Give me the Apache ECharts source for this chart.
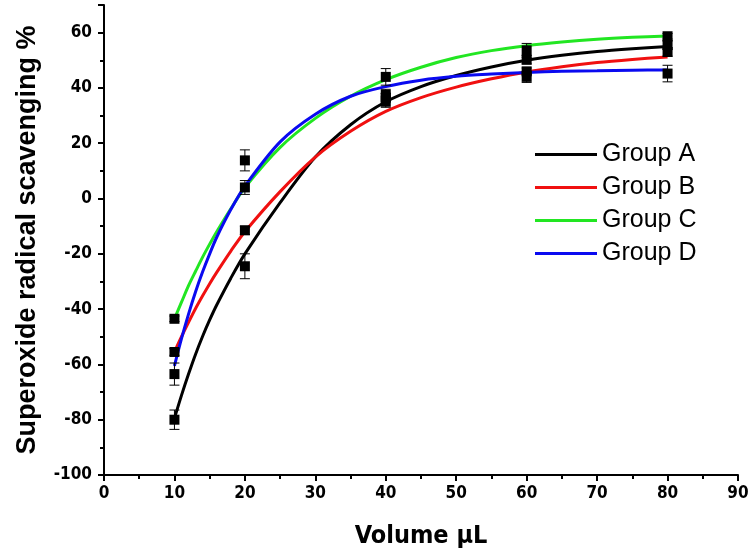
<!DOCTYPE html>
<html>
<head>
<meta charset="utf-8">
<script src="https://cdn.jsdelivr.net/npm/echarts@6/dist/echarts.min.js"></script>
<style>html,body{margin:0;padding:0;background:#fff}#c{width:750px;height:555px}</style>
</head>
<body>
<div id="c"></div>
<script>
// Fitted curves
const curveX = [10,11,12,13,14,15,16,18,20,25,30,35,40,45,50,55,60,65,70,75,80];
const curveA = [-79.5,-71.2,-63.5,-56.3,-49.8,-43.9,-38.5,-28.8,-20,-1.5,15,26.7,35,40.5,44.5,47.6,50,51.8,53.2,54.2,55];
const curveB = [-55.5,-50,-44.8,-39.8,-35.2,-30.8,-26.7,-19,-12,2.5,15,24.3,31.5,36.5,40.3,43.3,45.8,47.7,49.2,50.3,51.2];
const curveC = [-43.5,-37.5,-31.5,-26.3,-21.2,-16.5,-12,-3.7,4,18.5,29,37,43,47.5,51,53.5,55.3,56.6,57.6,58.3,58.8];
const curveD = [-60.5,-50.7,-41.8,-33.7,-26.5,-20,-14,-4,4.5,20.5,30.5,37,40.5,42.8,44.2,45,45.6,46,46.2,46.4,46.5];

// Measured points with error bars
const pointX = [10,20,40,60,80];
const pointsA = [-80,-24.5,35,50.2,55.5];
const errA    = [3.5,4.5,2,1.5,1.5];
const pointsB = [-55.5,-11.5,36.5,46,53];
const errB    = [1.2,1.5,1.5,1.2,1.5];
const pointsC = [-43.5,4,44,53.6,58.7];
const errC    = [1,2.5,3,2.5,1];
const pointsD = [-63.5,13.8,37.5,44,45.2];
const errD    = [4,3.8,2,2,3];

const groupNames = ['Group A','Group B','Group C','Group D'];
const groupColors = ['#000000','#f01010','#22e622','#0a0af0'];

const curves = [curveA, curveB, curveC, curveD];
const pts = [pointsA, pointsB, pointsC, pointsD];
const errs = [errA, errB, errC, errD];

const scatterData = [];
const errData = [];
pts.forEach((arr, g) => {
  arr.forEach((v, i) => {
    scatterData.push([pointX[i], v]);
    errData.push([pointX[i], v - errs[g][i], v + errs[g][i]]);
  });
});

const tickFont = "'Liberation Sans Narrow','Arial Narrow','DejaVu Sans Condensed',sans-serif";

const series = curves.map((c, g) => ({
  name: groupNames[g],
  type: 'line',
  data: curveX.map((x, i) => [x, c[i]]),
  smooth: 0.3,
  symbol: 'none',
  lineStyle: { color: groupColors[g], width: 3 },
  itemStyle: { color: groupColors[g] },
  z: 2
}));

series.push({
  name: 'errors',
  type: 'custom',
  data: errData,
  z: 3,
  renderItem: function (params, api) {
    const x = api.value(0);
    const lo = api.coord([x, api.value(1)]);
    const hi = api.coord([x, api.value(2)]);
    const w = 5;
    const st = { stroke: '#000', lineWidth: 1 };
    return {
      type: 'group',
      children: [
        { type: 'line', shape: { x1: lo[0], y1: lo[1], x2: hi[0], y2: hi[1] }, style: st },
        { type: 'line', shape: { x1: lo[0] - w, y1: lo[1], x2: lo[0] + w, y2: lo[1] }, style: st },
        { type: 'line', shape: { x1: hi[0] - w, y1: hi[1], x2: hi[0] + w, y2: hi[1] }, style: st }
      ]
    };
  }
});

series.push({
  name: 'points',
  type: 'scatter',
  data: scatterData,
  symbol: 'rect',
  symbolSize: 10,
  itemStyle: { color: '#000', opacity: 1 },
  z: 4
});

const chart = echarts.init(document.getElementById('c'), null, { renderer: 'canvas' });
chart.setOption({
  animation: false,
  backgroundColor: '#fff',
  grid: { left: 104, right: 12, top: 5, bottom: 80, containLabel: false, outerBoundsMode: 'none' },
  legend: {
    data: groupNames,
    orient: 'vertical',
    left: 530,
    top: 137,
    icon: 'rect',
    itemWidth: 62,
    itemHeight: 3,
    itemGap: 8,
    textStyle: { fontFamily: "'Liberation Sans',Arial,sans-serif", fontSize: 25, color: '#000' }
  },
  xAxis: {
    type: 'value',
    min: 0, max: 90, interval: 10,
    name: 'Volume µL',
    nameLocation: 'middle',
    nameGap: 49,
    nameTextStyle: { fontFamily: tickFont, fontWeight: 'bold', fontSize: 25, color: '#000' },
    axisLine: { show: true, onZero: false, lineStyle: { color: '#000', width: 2 } },
    axisTick: { show: true, inside: false, length: 6, lineStyle: { color: '#000', width: 2 } },
    minorTick: { show: true, splitNumber: 2, length: 4, lineStyle: { color: '#000', width: 2 } },
    splitLine: { show: false },
    axisLabel: { fontFamily: tickFont, fontWeight: 'bold', fontSize: 17, color: '#000', margin: 10 }
  },
  yAxis: [
    {
      type: 'value',
      min: -100, max: 70, interval: 20,
      position: 'left',
      name: 'Superoxide radical scavenging %',
      nameLocation: 'middle',
      nameGap: 63,
      nameTextStyle: { fontFamily: "'Liberation Sans',Arial,sans-serif", fontWeight: 'bold', fontSize: 27, color: '#000' },
      axisLine: { show: true, onZero: false, lineStyle: { color: '#000', width: 2 } },
      axisTick: { show: true, inside: false, length: 6, lineStyle: { color: '#000', width: 2 } },
      splitLine: { show: false },
      axisLabel: {
        fontFamily: tickFont, fontWeight: 'bold', fontSize: 17, color: '#000', margin: 12,
        formatter: v => (v % 20 === 0 ? String(v) : '')
      }
    },
    {
      type: 'value',
      min: -100, max: 70, interval: 10,
      position: 'left',
      axisLine: { show: false, onZero: false },
      axisTick: { show: true, inside: false, length: 4, lineStyle: { color: '#000', width: 2 } },
      splitLine: { show: false },
      axisLabel: { show: false }
    }
  ],
  series: series
});
</script>
</body>
</html>
